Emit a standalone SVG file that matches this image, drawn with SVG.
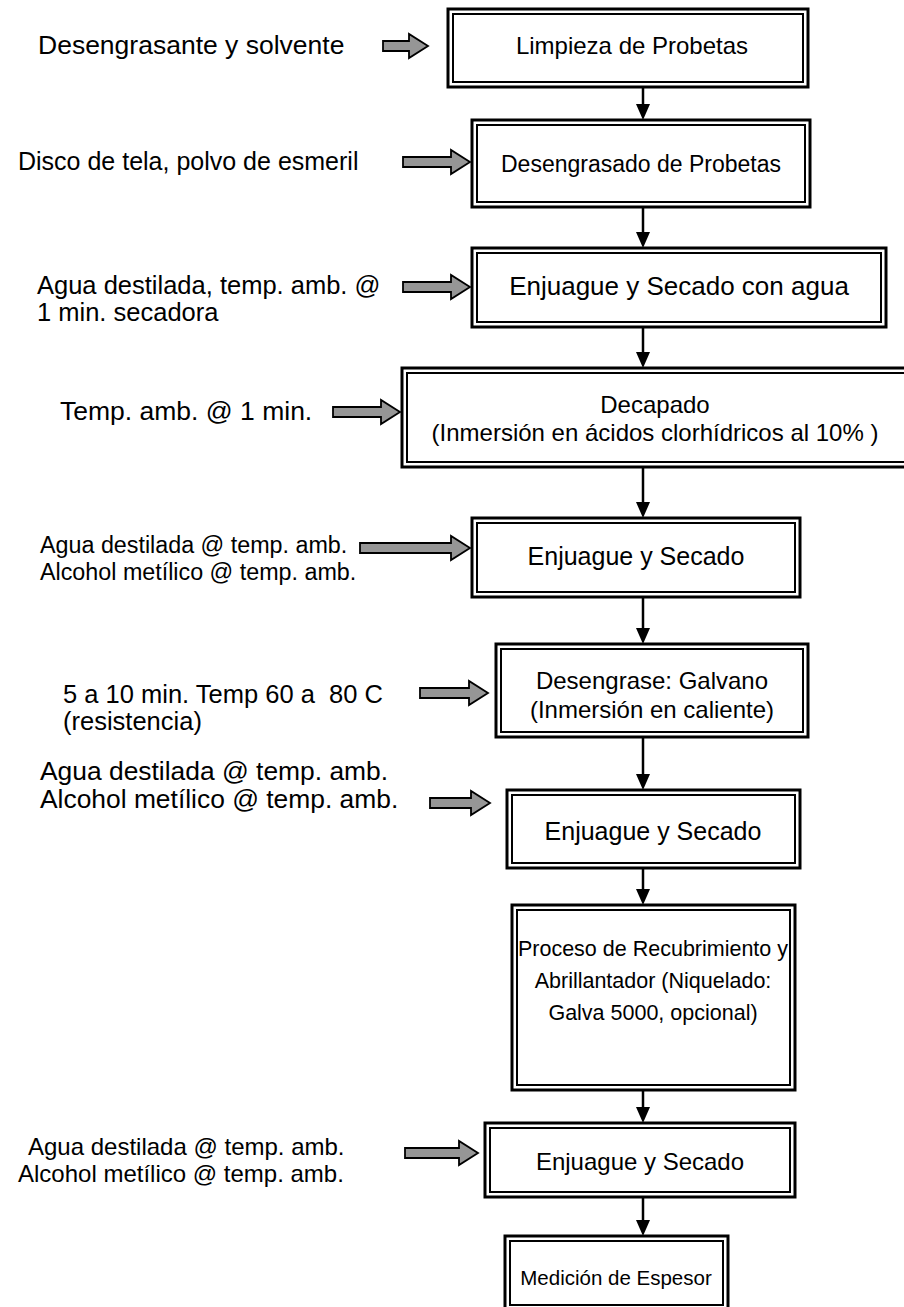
<svg xmlns="http://www.w3.org/2000/svg" width="904" height="1307" viewBox="0 0 904 1307">
  <style>
    .outer { fill: #fff; stroke: #000; stroke-width: 3; }
    .inner { fill: none; stroke: #000; stroke-width: 2; }
    .t { font-family: "Liberation Sans", Arial, sans-serif; font-size: 24px; fill: #000; }
    .c { text-anchor: middle; }
    .blk { fill: #969696; stroke: #000; stroke-width: 1.8; stroke-linejoin: miter; }
    .flow { stroke: #000; stroke-width: 2.5; fill: none; }
    .head { fill: #000; }
  </style>

  <rect width="904" height="1307" fill="#fff"/>

  <!-- process steps: double-framed boxes -->
  <g id="n1">
    <rect class="outer" x="448" y="9" width="360" height="78"/>
    <rect class="inner" x="453" y="14" width="350" height="68"/>
    <text class="t c" x="632" y="54">Limpieza de Probetas</text>
  </g>
  <g id="n2">
    <rect class="outer" x="472" y="120" width="338" height="87"/>
    <rect class="inner" x="477" y="125" width="328" height="77"/>
    <text class="t c" x="641" y="172" style="font-size:23px">Desengrasado de Probetas</text>
  </g>
  <g id="n3">
    <rect class="outer" x="472" y="248" width="414" height="79"/>
    <rect class="inner" x="477" y="253" width="404" height="69"/>
    <text class="t c" x="679" y="295" style="font-size:26px">Enjuague y Secado con agua</text>
  </g>
  <g id="n4">
    <rect class="outer" x="402" y="368" width="510" height="99"/>
    <rect class="inner" x="407" y="373" width="500" height="89"/>
    <text class="t c" x="655" y="413">Decapado</text>
    <text class="t c" x="655" y="441">(Inmersión en ácidos clorhídricos al 10% )</text>
  </g>
  <g id="n5">
    <rect class="outer" x="472" y="518" width="328" height="79"/>
    <rect class="inner" x="477" y="523" width="318" height="69"/>
    <text class="t c" x="636" y="565" style="font-size:25px">Enjuague y Secado</text>
  </g>
  <g id="n6">
    <rect class="outer" x="496" y="644" width="312" height="93"/>
    <rect class="inner" x="501" y="649" width="302" height="83"/>
    <text class="t c" x="652" y="689">Desengrase: Galvano</text>
    <text class="t c" x="652" y="718">(Inmersión en caliente)</text>
  </g>
  <g id="n7">
    <rect class="outer" x="507" y="790" width="293" height="78"/>
    <rect class="inner" x="512" y="795" width="283" height="68"/>
    <text class="t c" x="653" y="840" style="font-size:25px">Enjuague y Secado</text>
  </g>
  <g id="n8">
    <rect class="outer" x="512" y="905" width="283" height="185"/>
    <rect class="inner" x="517" y="910" width="273" height="175"/>
    <text class="t c" x="653" y="956" style="font-size:21.5px">Proceso de Recubrimiento y</text>
    <text class="t c" x="653" y="988" style="font-size:21.5px">Abrillantador (Niquelado:</text>
    <text class="t c" x="653" y="1020" style="font-size:21.5px">Galva 5000, opcional)</text>
  </g>
  <g id="n9">
    <rect class="outer" x="485" y="1123" width="310" height="74"/>
    <rect class="inner" x="490" y="1128" width="300" height="64"/>
    <text class="t c" x="640" y="1170">Enjuague y Secado</text>
  </g>
  <g id="n10">
    <rect class="outer" x="505" y="1236" width="223" height="80"/>
    <rect class="inner" x="510" y="1241" width="213" height="64"/>
    <text class="t c" x="616" y="1285" style="font-size:20.5px">Medición de Espesor</text>
  </g>

  <!-- inputs for each step -->
  <g id="inputs">
    <text class="t" x="38" y="54" style="font-size:26.5px">Desengrasante y solvente</text>
    <text class="t" x="18" y="170" style="font-size:25px">Disco de tela, polvo de esmeril</text>
    <text class="t" x="37" y="294" style="font-size:25.5px">Agua destilada, temp. amb. @</text>
    <text class="t" x="37" y="321" style="font-size:25.5px">1 min. secadora</text>
    <text class="t" x="60" y="420" style="font-size:26.5px">Temp. amb. @ 1 min.</text>
    <text class="t" x="40" y="553" style="font-size:23.3px">Agua destilada @ temp. amb.</text>
    <text class="t" x="40" y="580" style="font-size:23.3px">Alcohol metílico @ temp. amb.</text>
    <text class="t" x="63" y="703" style="font-size:25.5px" xml:space="preserve">5 a 10 min. Temp 60 a  80 C</text>
    <text class="t" x="63" y="730" style="font-size:25.5px">(resistencia)</text>
    <text class="t" x="40" y="780" style="font-size:26.4px">Agua destilada @ temp. amb.</text>
    <text class="t" x="40" y="808" style="font-size:26.4px">Alcohol metílico @ temp. amb.</text>
    <text class="t" x="28" y="1155">Agua destilada @ temp. amb.</text>
    <text class="t" x="18" y="1182">Alcohol metílico @ temp. amb.</text>
  </g>

  <!-- connectors: grey block arrows feeding inputs, black arrows between steps -->
  <g id="connectors">
    <path class="blk" d="M383,41 H409 V34 L428,46 L409,58 V51 H383 Z"/>
    <path class="blk" d="M403,157 H451 V150 L470,162 L451,174 V167 H403 Z"/>
    <path class="blk" d="M403,282 H451 V275 L470,287 L451,299 V292 H403 Z"/>
    <path class="blk" d="M333,407 H381 V400 L400,412 L381,424 V417 H333 Z"/>
    <path class="blk" d="M360,543 H451 V536 L470,548 L451,560 V553 H360 Z"/>
    <path class="blk" d="M420,688 H469 V681 L488,693 L469,705 V698 H420 Z"/>
    <path class="blk" d="M430,798 H471 V791 L490,803 L471,815 V808 H430 Z"/>
    <path class="blk" d="M405,1148 H459 V1141 L478,1153 L459,1165 V1158 H405 Z"/>

    <line class="flow" x1="643" y1="87" x2="643" y2="106"/>
    <path class="head" d="M636,104 H650 L643,120 Z"/>
    <line class="flow" x1="643" y1="207" x2="643" y2="234"/>
    <path class="head" d="M636,232 H650 L643,248 Z"/>
    <line class="flow" x1="643" y1="327" x2="643" y2="354"/>
    <path class="head" d="M636,352 H650 L643,368 Z"/>
    <line class="flow" x1="643" y1="467" x2="643" y2="504"/>
    <path class="head" d="M636,502 H650 L643,518 Z"/>
    <line class="flow" x1="643" y1="597" x2="643" y2="630"/>
    <path class="head" d="M636,628 H650 L643,644 Z"/>
    <line class="flow" x1="643" y1="737" x2="643" y2="776"/>
    <path class="head" d="M636,774 H650 L643,790 Z"/>
    <line class="flow" x1="643" y1="868" x2="643" y2="891"/>
    <path class="head" d="M636,889 H650 L643,905 Z"/>
    <line class="flow" x1="643" y1="1090" x2="643" y2="1109"/>
    <path class="head" d="M636,1107 H650 L643,1123 Z"/>
    <line class="flow" x1="643" y1="1197" x2="643" y2="1222"/>
    <path class="head" d="M636,1220 H650 L643,1236 Z"/>
  </g>
</svg>
